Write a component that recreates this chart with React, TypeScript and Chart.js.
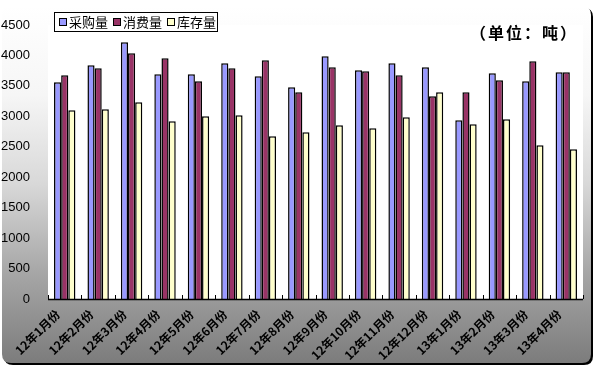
import React, { useEffect, useRef } from "react";
import { Chart, registerables } from "chart.js";

Chart.register(...registerables);

const categories = [
  "12年1月份", "12年2月份", "12年3月份", "12年4月份", "12年5月份", "12年6月份",
  "12年7月份", "12年8月份", "12年9月份", "12年10月份", "12年11月份", "12年12月份",
  "13年1月份", "13年2月份", "13年3月份", "13年4月份",
];
const seriesNames = ["采购量", "消费量", "库存量"];
const purchase = [3559, 3838, 4216, 3690, 3690, 3871, 3657, 3477, 3986, 3756, 3871, 3805, 2935, 3707, 3575, 3723];
const consumption = [3674, 3789, 4035, 3953, 3575, 3789, 3920, 3395, 3805, 3740, 3674, 3329, 3395, 3592, 3904, 3723];
const inventory = [3099, 3115, 3230, 2918, 3000, 3017, 2672, 2738, 2853, 2803, 2984, 3395, 2869, 2951, 2524, 2459];
const seriesColors = ["#9999FF", "#993366", "#FFFFCC"];
const unitLabel = "（单位：吨）";

const bgPlugin = {
  id: "bgPlugin",
  beforeDraw(chart: any) {
    const { ctx, width, height, chartArea } = chart;
    ctx.save();
    const x = 2, y = 6, w = width - 9, h = height - 10, r = 9;
    const path = () => {
      ctx.beginPath();
      ctx.moveTo(x + r, y);
      ctx.lineTo(x + w - r, y);
      ctx.quadraticCurveTo(x + w, y, x + w, y + r);
      ctx.lineTo(x + w, y + h - r);
      ctx.quadraticCurveTo(x + w, y + h, x + w - r, y + h);
      ctx.lineTo(x + r, y + h);
      ctx.quadraticCurveTo(x, y + h, x, y + h - r);
      ctx.lineTo(x, y + r);
      ctx.quadraticCurveTo(x, y, x + r, y);
      ctx.closePath();
    };
    ctx.save();
    ctx.translate(2, 2);
    path();
    ctx.fillStyle = "#000";
    ctx.fill();
    ctx.restore();
    const g = ctx.createLinearGradient(0, y, 0, y + h);
    g.addColorStop(0, "#ffffff");
    g.addColorStop(0.25, "#f6f6f6");
    g.addColorStop(0.5, "#d8d8d8");
    g.addColorStop(0.75, "#a6a6a6");
    g.addColorStop(1, "#7c7c7c");
    path();
    ctx.fillStyle = g;
    ctx.fill();
    ctx.fillStyle = "#ffffff";
    ctx.fillRect(chartArea.left, chartArea.top, chartArea.right - chartArea.left, chartArea.bottom - chartArea.top);
    ctx.restore();
  },
  afterDatasetsDraw(chart: any) {
    const { ctx, chartArea } = chart;
    const xs = chart.scales.x;
    ctx.save();
    ctx.strokeStyle = "#000";
    ctx.lineWidth = 1.5;
    ctx.beginPath();
    ctx.moveTo(chartArea.left, chartArea.bottom + 0.5);
    ctx.lineTo(chartArea.right, chartArea.bottom + 0.5);
    ctx.stroke();
    ctx.lineWidth = 1;
    const n = categories.length;
    const step = (chartArea.right - chartArea.left) / n;
    for (let i = 0; i <= n; i++) {
      const px = Math.round(i < n ? xs.getPixelForValue(i) - step / 2 : xs.getPixelForValue(n - 1) + step / 2) + 0.5;
      ctx.beginPath();
      ctx.moveTo(px, chartArea.bottom - 4);
      ctx.lineTo(px, chartArea.bottom);
      ctx.stroke();
    }
    ctx.fillStyle = "#000";
    ctx.font = "bold 12px 'Noto Sans CJK SC'";
    ctx.textAlign = "right";
    ctx.textBaseline = "middle";
    categories.forEach((c, i) => {
      const px = xs.getPixelForValue(i);
      ctx.save();
      ctx.translate(px - 7, chartArea.bottom + 13);
      ctx.rotate(-Math.PI / 4);
      ctx.fillText(c, 0, 0);
      ctx.restore();
    });
    ctx.restore();
  },
  afterDraw(chart: any) {
    const { ctx } = chart;
    ctx.save();
    const lx = 54.5, ly = 12.5, lw = 163, lh = 19;
    ctx.fillStyle = "#fff";
    ctx.fillRect(lx, ly, lw, lh);
    ctx.strokeStyle = "#000";
    ctx.lineWidth = 1;
    ctx.strokeRect(lx, ly, lw, lh);
    const swatchX = [59, 113, 167];
    ctx.font = "13px 'Noto Sans CJK SC'";
    ctx.textBaseline = "middle";
    ctx.textAlign = "left";
    seriesNames.forEach((name, i) => {
      ctx.fillStyle = seriesColors[i];
      ctx.fillRect(swatchX[i] + 0.5, 18.5, 7, 7);
      ctx.strokeStyle = "#000";
      ctx.strokeRect(swatchX[i] + 0.5, 18.5, 7, 7);
      ctx.fillStyle = "#000";
      ctx.fillText(name, swatchX[i] + 10, 22.5);
    });
    ctx.font = "bold 16px 'Noto Sans CJK SC'";
    ctx.textAlign = "left";
    ctx.textBaseline = "middle";
    (ctx as any).letterSpacing = "2px";
    ctx.fillText(unitLabel, 470, 33);
    ctx.restore();
  },
};

export default function App() {
  const ref = useRef<HTMLCanvasElement>(null);
  useEffect(() => {
    const chart = new Chart(ref.current!, {
      type: "bar",
      data: {
        labels: categories,
        datasets: [purchase, consumption, inventory].map((d, i) => ({
          label: seriesNames[i],
          data: d,
          backgroundColor: seriesColors[i],
          borderColor: "#000",
          borderWidth: 1.5,
          categoryPercentage: 0.64,
          barPercentage: 1.0,
        })),
      },
      options: {
        animation: false,
        responsive: false,
        maintainAspectRatio: false,
        layout: { padding: { top: 25, right: 15, left: 0, bottom: 0 } },
        plugins: { legend: { display: false }, tooltip: { enabled: false } },
        scales: {
          x: {
            grid: { display: false },
            border: { display: false },
            ticks: { display: false },
            afterFit(scale: any) { scale.height = 68; },
          },
          y: {
            min: 0,
            max: 4500,
            grid: { display: false },
            border: { display: false },
            ticks: {
              stepSize: 500,
              color: "#000",
              font: { family: "'Liberation Sans', Arial", size: 13 },
              padding: 10,
              callback: (v: any) => String(v),
            },
            afterFit(scale: any) { scale.width = 48; },
          },
        },
      },
      plugins: [bgPlugin],
    });
    return () => chart.destroy();
  }, []);
  return (
    <div style={{ position: "fixed", left: 0, top: 0, width: 598, height: 367 }}>
      <canvas ref={ref} width={598} height={367} style={{ display: "block" }} />
    </div>
  );
}
